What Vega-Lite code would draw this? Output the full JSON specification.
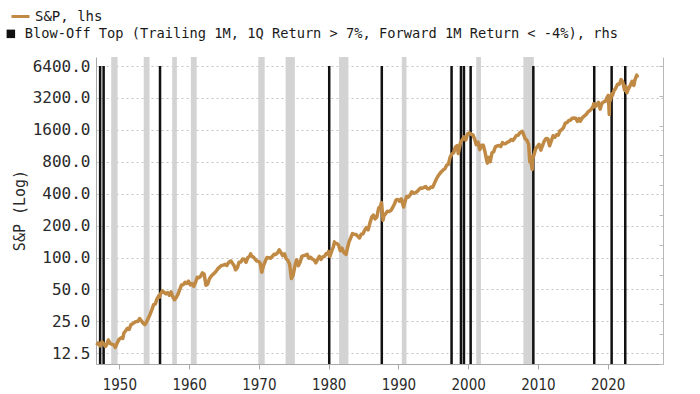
{
  "$schema": "https://vega.github.io/schema/vega-lite/v6.json",
  "width": 567,
  "height": 307,
  "autosize": "none",
  "padding": {"left": 96, "top": 57, "right": 37, "bottom": 30},
  "background": "white",
  "config": {"view": {"stroke": null}},
  "datasets": {
    "sp": [
      {"date":"1946-10","sp":14.9},{"date":"1947-01","sp":15.7},{"date":"1947-04","sp":14.7},{"date":"1947-07","sp":16.0},{"date":"1947-10","sp":15.3},
      {"date":"1948-01","sp":14.5},{"date":"1948-03","sp":15.0},{"date":"1948-06","sp":16.7},{"date":"1948-09","sp":15.5},{"date":"1948-12","sp":15.2},
      {"date":"1949-03","sp":15.1},{"date":"1949-06","sp":14.2},{"date":"1949-09","sp":15.5},{"date":"1949-12","sp":16.8},
      {"date":"1950-03","sp":17.3},{"date":"1950-06","sp":17.7},{"date":"1950-07","sp":17.3},{"date":"1950-09","sp":19.5},{"date":"1950-12","sp":20.4},
      {"date":"1951-03","sp":21.5},{"date":"1951-06","sp":21.0},{"date":"1951-09","sp":23.3},{"date":"1951-12","sp":23.8},
      {"date":"1952-03","sp":24.4},{"date":"1952-06","sp":25.0},{"date":"1952-09","sp":25.0},{"date":"1952-12","sp":26.6},
      {"date":"1953-03","sp":25.3},{"date":"1953-06","sp":24.1},{"date":"1953-09","sp":23.3},{"date":"1953-12","sp":24.8},
      {"date":"1954-03","sp":26.9},{"date":"1954-06","sp":29.2},{"date":"1954-09","sp":32.3},{"date":"1954-12","sp":36.0},
      {"date":"1955-03","sp":36.6},{"date":"1955-06","sp":41.0},{"date":"1955-09","sp":43.7},{"date":"1955-10","sp":42.3},{"date":"1955-12","sp":45.5},
      {"date":"1956-03","sp":48.5},{"date":"1956-06","sp":46.9},{"date":"1956-09","sp":45.4},{"date":"1956-12","sp":46.7},
      {"date":"1957-03","sp":44.1},{"date":"1957-06","sp":47.4},{"date":"1957-09","sp":42.4},{"date":"1957-12","sp":40.0},
      {"date":"1958-03","sp":42.1},{"date":"1958-06","sp":45.2},{"date":"1958-09","sp":50.1},{"date":"1958-12","sp":55.2},
      {"date":"1959-03","sp":55.4},{"date":"1959-06","sp":58.5},{"date":"1959-09","sp":56.9},{"date":"1959-12","sp":59.9},
      {"date":"1960-03","sp":55.3},{"date":"1960-06","sp":56.9},{"date":"1960-09","sp":53.5},{"date":"1960-12","sp":58.1},
      {"date":"1961-03","sp":65.1},{"date":"1961-06","sp":64.6},{"date":"1961-09","sp":66.7},{"date":"1961-12","sp":71.6},
      {"date":"1962-03","sp":69.6},{"date":"1962-06","sp":54.8},{"date":"1962-09","sp":56.3},{"date":"1962-12","sp":63.1},
      {"date":"1963-03","sp":66.6},{"date":"1963-06","sp":69.4},{"date":"1963-09","sp":71.7},{"date":"1963-12","sp":75.0},
      {"date":"1964-03","sp":79.0},{"date":"1964-06","sp":81.7},{"date":"1964-09","sp":84.2},{"date":"1964-12","sp":84.8},
      {"date":"1965-03","sp":86.2},{"date":"1965-06","sp":84.1},{"date":"1965-09","sp":90.0},{"date":"1965-12","sp":92.4},
      {"date":"1966-01","sp":92.9},{"date":"1966-03","sp":89.2},{"date":"1966-06","sp":84.7},{"date":"1966-09","sp":76.6},{"date":"1966-12","sp":80.3},
      {"date":"1967-03","sp":90.2},{"date":"1967-06","sp":90.6},{"date":"1967-09","sp":96.7},{"date":"1967-12","sp":96.5},
      {"date":"1968-03","sp":90.2},{"date":"1968-06","sp":99.6},{"date":"1968-09","sp":102.7},{"date":"1968-11","sp":108.4},{"date":"1968-12","sp":103.9},
      {"date":"1969-03","sp":101.5},{"date":"1969-06","sp":97.7},{"date":"1969-09","sp":93.1},{"date":"1969-12","sp":92.1},
      {"date":"1970-03","sp":89.6},{"date":"1970-06","sp":72.7},{"date":"1970-09","sp":84.2},{"date":"1970-12","sp":92.2},
      {"date":"1971-03","sp":100.3},{"date":"1971-06","sp":99.7},{"date":"1971-09","sp":98.3},{"date":"1971-12","sp":102.1},
      {"date":"1972-03","sp":107.2},{"date":"1972-06","sp":107.1},{"date":"1972-09","sp":110.6},{"date":"1972-12","sp":118.1},
      {"date":"1973-03","sp":111.5},{"date":"1973-06","sp":104.3},{"date":"1973-09","sp":108.4},{"date":"1973-12","sp":97.6},
      {"date":"1974-03","sp":94.0},{"date":"1974-06","sp":86.0},{"date":"1974-09","sp":63.5},{"date":"1974-12","sp":68.6},
      {"date":"1975-03","sp":83.4},{"date":"1975-06","sp":95.2},{"date":"1975-09","sp":83.9},{"date":"1975-12","sp":90.2},
      {"date":"1976-03","sp":102.8},{"date":"1976-06","sp":104.3},{"date":"1976-09","sp":105.2},{"date":"1976-12","sp":107.5},
      {"date":"1977-03","sp":98.4},{"date":"1977-06","sp":100.5},{"date":"1977-09","sp":96.5},{"date":"1977-12","sp":95.1},
      {"date":"1978-03","sp":89.2},{"date":"1978-06","sp":95.5},{"date":"1978-09","sp":102.5},{"date":"1978-12","sp":96.1},
      {"date":"1979-03","sp":101.6},{"date":"1979-06","sp":102.9},{"date":"1979-09","sp":109.3},{"date":"1979-12","sp":107.9},
      {"date":"1980-01","sp":114.2},{"date":"1980-03","sp":102.1},{"date":"1980-06","sp":114.2},{"date":"1980-09","sp":125.5},{"date":"1980-11","sp":140.5},{"date":"1980-12","sp":135.8},
      {"date":"1981-03","sp":136.0},{"date":"1981-06","sp":131.2},{"date":"1981-09","sp":116.2},{"date":"1981-12","sp":122.6},
      {"date":"1982-03","sp":112.0},{"date":"1982-07","sp":107.1},{"date":"1982-09","sp":120.4},{"date":"1982-12","sp":140.6},
      {"date":"1983-03","sp":153.0},{"date":"1983-06","sp":168.1},{"date":"1983-09","sp":166.1},{"date":"1983-12","sp":164.9},
      {"date":"1984-03","sp":159.2},{"date":"1984-06","sp":153.2},{"date":"1984-09","sp":166.1},{"date":"1984-12","sp":167.2},
      {"date":"1985-03","sp":180.7},{"date":"1985-06","sp":191.9},{"date":"1985-09","sp":182.1},{"date":"1985-12","sp":211.3},
      {"date":"1986-03","sp":238.9},{"date":"1986-06","sp":250.8},{"date":"1986-09","sp":231.3},{"date":"1986-12","sp":242.2},
      {"date":"1987-03","sp":291.7},{"date":"1987-06","sp":304.0},{"date":"1987-08","sp":329.8},{"date":"1987-10-19","sp":224.8},{"date":"1987-12","sp":247.1},
      {"date":"1988-03","sp":258.9},{"date":"1988-06","sp":273.5},{"date":"1988-09","sp":271.9},{"date":"1988-12","sp":277.7},
      {"date":"1989-03","sp":294.9},{"date":"1989-06","sp":318.0},{"date":"1989-09","sp":349.2},{"date":"1989-12","sp":353.4},
      {"date":"1990-03","sp":339.9},{"date":"1990-06","sp":358.0},{"date":"1990-10","sp":300.0},{"date":"1990-12","sp":330.2},
      {"date":"1991-03","sp":375.2},{"date":"1991-06","sp":371.2},{"date":"1991-09","sp":387.9},{"date":"1991-12","sp":417.1},
      {"date":"1992-03","sp":403.7},{"date":"1992-06","sp":408.1},{"date":"1992-09","sp":417.8},{"date":"1992-12","sp":435.7},
      {"date":"1993-03","sp":451.7},{"date":"1993-06","sp":450.5},{"date":"1993-09","sp":458.9},{"date":"1993-12","sp":466.5},
      {"date":"1994-03","sp":445.8},{"date":"1994-06","sp":444.3},{"date":"1994-09","sp":462.7},{"date":"1994-12","sp":459.3},
      {"date":"1995-03","sp":500.7},{"date":"1995-06","sp":544.8},{"date":"1995-09","sp":584.4},{"date":"1995-12","sp":615.9},
      {"date":"1996-03","sp":645.5},{"date":"1996-06","sp":670.6},{"date":"1996-09","sp":687.3},{"date":"1996-12","sp":740.7},
      {"date":"1997-03","sp":757.1},{"date":"1997-06","sp":885.1},{"date":"1997-09","sp":947.3},{"date":"1997-12","sp":970.4},
      {"date":"1998-03","sp":1101.8},{"date":"1998-06","sp":1133.8},{"date":"1998-08","sp":957.3},{"date":"1998-09","sp":1017.0},{"date":"1998-12","sp":1229.2},
      {"date":"1999-03","sp":1286.4},{"date":"1999-06","sp":1372.7},{"date":"1999-09","sp":1282.7},{"date":"1999-12","sp":1469.3},
      {"date":"2000-03","sp":1498.6},{"date":"2000-06","sp":1454.6},{"date":"2000-09","sp":1436.5},{"date":"2000-12","sp":1320.3},
      {"date":"2001-03","sp":1160.3},{"date":"2001-06","sp":1224.4},{"date":"2001-09","sp":1040.9},{"date":"2001-12","sp":1148.1},
      {"date":"2002-03","sp":1147.4},{"date":"2002-06","sp":989.8},{"date":"2002-09","sp":815.3},{"date":"2002-10","sp":776.8},{"date":"2002-12","sp":879.8},
      {"date":"2003-03","sp":800.7},{"date":"2003-06","sp":974.5},{"date":"2003-09","sp":996.0},{"date":"2003-12","sp":1111.9},
      {"date":"2004-03","sp":1126.2},{"date":"2004-06","sp":1140.8},{"date":"2004-09","sp":1114.6},{"date":"2004-12","sp":1211.9},
      {"date":"2005-03","sp":1180.6},{"date":"2005-06","sp":1191.3},{"date":"2005-09","sp":1228.8},{"date":"2005-12","sp":1248.3},
      {"date":"2006-03","sp":1294.8},{"date":"2006-06","sp":1270.2},{"date":"2006-09","sp":1335.9},{"date":"2006-12","sp":1418.3},
      {"date":"2007-03","sp":1420.9},{"date":"2007-06","sp":1503.4},{"date":"2007-10","sp":1549.4},{"date":"2007-12","sp":1468.4},
      {"date":"2008-03","sp":1322.7},{"date":"2008-06","sp":1280.0},{"date":"2008-09","sp":1166.4},{"date":"2008-10","sp":968.8},{"date":"2008-11","sp":800.0},{"date":"2008-12","sp":903.3},
      {"date":"2009-02","sp":735.1},{"date":"2009-03-09","sp":676.5},{"date":"2009-04","sp":872.8},{"date":"2009-06","sp":919.3},{"date":"2009-09","sp":1057.1},{"date":"2009-12","sp":1115.1},
      {"date":"2010-03","sp":1169.4},{"date":"2010-06","sp":1030.7},{"date":"2010-09","sp":1141.2},{"date":"2010-12","sp":1257.6},
      {"date":"2011-03","sp":1325.8},{"date":"2011-06","sp":1320.6},{"date":"2011-09","sp":1131.4},{"date":"2011-12","sp":1257.6},
      {"date":"2012-03","sp":1408.5},{"date":"2012-06","sp":1362.2},{"date":"2012-09","sp":1440.7},{"date":"2012-12","sp":1426.2},
      {"date":"2013-03","sp":1569.2},{"date":"2013-06","sp":1606.3},{"date":"2013-09","sp":1681.6},{"date":"2013-12","sp":1848.4},
      {"date":"2014-03","sp":1872.3},{"date":"2014-06","sp":1960.2},{"date":"2014-09","sp":1972.3},{"date":"2014-12","sp":2058.9},
      {"date":"2015-03","sp":2067.9},{"date":"2015-06","sp":2063.1},{"date":"2015-09","sp":1920.0},{"date":"2015-12","sp":2043.9},
      {"date":"2016-02","sp":1932.2},{"date":"2016-06","sp":2098.9},{"date":"2016-09","sp":2168.3},{"date":"2016-12","sp":2238.8},
      {"date":"2017-03","sp":2362.7},{"date":"2017-06","sp":2423.4},{"date":"2017-09","sp":2519.4},{"date":"2017-12","sp":2673.6},
      {"date":"2018-01","sp":2823.8},{"date":"2018-03","sp":2640.9},{"date":"2018-06","sp":2718.4},{"date":"2018-09","sp":2914.0},{"date":"2018-12","sp":2506.9},
      {"date":"2019-03","sp":2834.4},{"date":"2019-06","sp":2941.8},{"date":"2019-09","sp":2976.7},{"date":"2019-12","sp":3230.8},
      {"date":"2020-02","sp":3380.0},{"date":"2020-03-23","sp":2237.4},{"date":"2020-04","sp":2912.4},{"date":"2020-06","sp":3100.3},{"date":"2020-08","sp":3500.3},{"date":"2020-09","sp":3363.0},{"date":"2020-12","sp":3756.1},
      {"date":"2021-03","sp":3972.9},{"date":"2021-06","sp":4297.5},{"date":"2021-09","sp":4307.5},{"date":"2021-12","sp":4766.2},
      {"date":"2022-03","sp":4530.4},{"date":"2022-06","sp":3785.4},{"date":"2022-08","sp":4130.0},{"date":"2022-10","sp":3577.0},{"date":"2022-12","sp":3839.5},
      {"date":"2023-03","sp":4109.3},{"date":"2023-07","sp":4588.0},{"date":"2023-10","sp":4193.8},{"date":"2023-12","sp":4769.8},
      {"date":"2024-03","sp":5254.4},{"date":"2024-04-19","sp":4967.2}
    ],
    "tops": [
      {"date":"1947-04-01","flag":1},{"date":"1947-10-01","flag":1},{"date":"1955-11-01","flag":1},{"date":"1980-02-01","flag":1},
      {"date":"1987-08-15","flag":1},{"date":"1997-08-15","flag":1},{"date":"1998-12-20","flag":1},{"date":"1999-05-25","flag":1},
      {"date":"2000-05-10","flag":1},{"date":"2009-05-05","flag":1},{"date":"2018-01-26","flag":1},{"date":"2020-07-25","flag":1},
      {"date":"2022-07-08","flag":1}
    ],
    "recessions": [
      {"start":"1948-11-01","end":"1949-10-01"},{"start":"1953-07-01","end":"1954-05-01"},{"start":"1957-08-01","end":"1958-04-01"},
      {"start":"1960-04-01","end":"1961-02-01"},{"start":"1969-12-01","end":"1970-11-01"},{"start":"1973-11-01","end":"1975-03-01"},
      {"start":"1981-07-01","end":"1982-11-01"},{"start":"1990-07-01","end":"1991-03-01"},{"start":"2001-03-01","end":"2001-11-01"},
      {"start":"2007-12-01","end":"2009-06-01"}
    ]
  },
  "layer": [
    {
      "data": {"name": "recessions"},
      "mark": {"type": "rect", "color": "#d3d3d3"},
      "encoding": {
        "x": {"field": "start", "type": "temporal",
          "scale": {"type": "utc", "domain": [{"year": 1946, "month": 8, "date": 28, "utc": true}, {"year": 2027, "month": 12, "date": 5, "utc": true}], "nice": false},
          "axis": {"title": null, "format": "%Y", "values": [
            {"year":1950,"utc":true},{"year":1960,"utc":true},{"year":1970,"utc":true},{"year":1980,"utc":true},
            {"year":1990,"utc":true},{"year":2000,"utc":true},{"year":2010,"utc":true},{"year":2020,"utc":true}],
            "grid": false, "domainColor": "#a8a8a8", "tickColor": "#a8a8a8", "tickSize": 5,
            "labelFont": "DejaVu Sans Condensed, DejaVu Sans", "labelFontSize": 15, "labelColor": "#2a2a2a", "labelPadding": 8}},
        "x2": {"field": "end"}
      }
    },
    {
      "data": {"name": "tops"},
      "mark": {"type": "rule", "strokeWidth": 2.5},
      "encoding": {
        "x": {"field": "date", "type": "temporal"},
        "y": {"field": "flag", "type": "quantitative",
          "scale": {"domain": [0, 1.03], "nice": false, "zero": true},
          "axis": {"orient": "right", "title": null, "labels": false, "grid": false,
            "values": [0, 0.1, 0.2, 0.3, 0.4, 0.5, 0.6, 0.7, 0.8, 0.9, 1.0],
            "tickSize": -4, "tickColor": "#b8b8b8", "domainColor": "#b8b8b8"}},
        "y2": {"datum": 0},
        "color": {"datum": "Blow-Off Top (Trailing 1M, 1Q Return > 7%, Forward 1M Return < -4%), rhs",
          "scale": {"range": ["#111111"]},
          "legend": {"orient": "none", "legendX": -92, "legendY": -30, "title": null, "padding": 0,
            "symbolType": "square", "symbolSize": 72, "symbolFillColor": "#111111", "symbolStrokeWidth": 0,
            "labelOffset": 7, "labelLimit": 1000, "labelFont": "DejaVu Sans Mono", "labelFontSize": 13.7, "labelColor": "#1a1a1a"}}
      }
    },
    {
      "data": {"name": "sp"},
      "mark": {"type": "line", "strokeWidth": 3.5, "strokeJoin": "round"},
      "encoding": {
        "x": {"field": "date", "type": "temporal"},
        "y": {"field": "sp", "type": "quantitative",
          "scale": {"type": "log", "domain": [9.91, 7783], "nice": false},
          "axis": {"orient": "left", "title": "S&P (Log)", "titleFont": "DejaVu Sans Mono", "titleFontSize": 15,
            "titleFontWeight": "normal", "titleColor": "#2a2a2a", "titleX": -77, "titleY": 153, "titleAngle": -90,
            "titleAlign": "center", "titleBaseline": "middle",
            "values": [12.5, 25, 50, 100, 200, 400, 800, 1600, 3200, 6400], "format": ".1f",
            "grid": true, "gridColor": "#c4c4c4", "gridDash": [2, 3], "gridWidth": 1,
            "ticks": false, "tickSize": 0, "labelPadding": 6, "domainColor": "#a8a8a8",
            "labelFont": "DejaVu Sans Mono", "labelFontSize": 16, "labelColor": "#2a2a2a"}},
        "color": {"datum": "S&P, lhs",
          "scale": {"range": ["#c08a45"]},
          "legend": {"orient": "none", "legendX": -86, "legendY": -51, "title": null, "padding": 0,
            "symbolType": "stroke", "symbolSize": 324, "symbolStrokeWidth": 3,
            "labelOffset": 4, "labelLimit": 1000, "labelFont": "DejaVu Sans Mono", "labelFontSize": 14, "labelColor": "#1a1a1a"}}
      }
    }
  ],
  "resolve": {"scale": {"y": "independent", "color": "independent"}, "axis": {"y": "independent"}}
}
